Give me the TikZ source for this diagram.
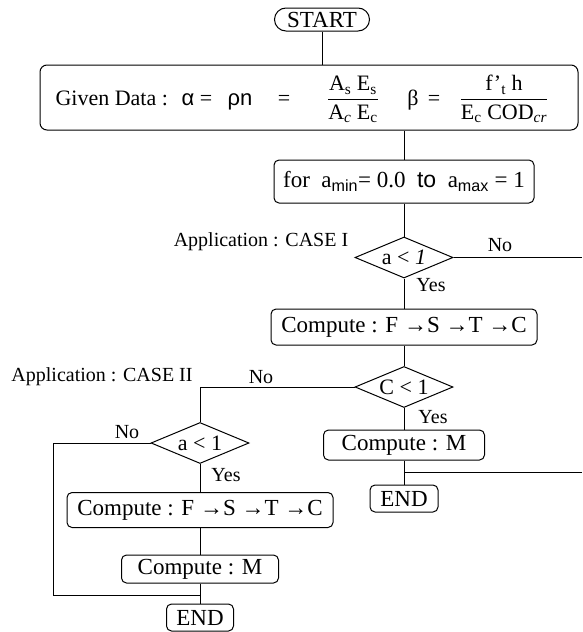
\documentclass[tikz,border=0pt]{standalone}
\usepackage{fontspec}
\usepackage{amsmath}
\setmainfont{Liberation Serif}
\newfontfamily\lsans{Liberation Sans}
\usetikzlibrary{shapes.geometric}
\begin{document}
\begin{tikzpicture}[x=1pt,y=-1pt, line width=1pt,
  box/.style={draw, rounded corners=5pt, inner sep=0pt, font=\fontsize{23}{27}\selectfont},
  dec/.style={draw, diamond, aspect=2.4, inner sep=0pt, minimum width=98pt, minimum height=41pt, font=\fontsize{22}{26}\selectfont},
  lab/.style={inner sep=0pt, font=\fontsize{20}{24}\selectfont},
  txt/.style={inner sep=0pt, anchor=base, font=\fontsize{22}{26}\selectfont}]
\useasboundingbox (0,0) rectangle (582,632);

% top
\node[box, rounded corners=11.5pt, minimum width=95pt, minimum height=23pt] (start) at (322,19.5) {START};
\node[box, rounded corners=7pt, minimum width=538pt, minimum height=65pt] (given) at (309,97.5) {};
\node[txt, anchor=base west] (g1) at (55,105) {Given Data :};
\node[txt] (g2) at (188,105) {\lsans α};
\node[txt] (g3) at (206,105) {=};
\node[txt] (g4) at (240,105) {\lsans ρn};
\node[txt] (g5) at (284,105) {=};
\node[txt] (g6) at (353,105) {$\dfrac{\text{A\textsubscript{s} E\textsubscript{s}}}{\text{A\textsubscript{\itshape c} E\textsubscript{c}}}$};
\node[txt] (g7) at (413,105) {β};
\node[txt] (g8) at (434,105) {=};
\node[txt] (g9) at (504,105) {$\dfrac{\text{f’\textsubscript{t} h}}{\text{E\textsubscript{c} COD\textsubscript{\itshape cr}}}$};

\node[box, minimum width=260pt, minimum height=43pt] (for) at (404,181.5) {for \ a\textsubscript{\lsans min}= 0.0 \ {\lsans to} \ a\textsubscript{\lsans max} = 1};

% case I
\node[dec] (d1) at (404,257.5) {a < \textit{1}};
\node[lab] (app1) at (261,242) {Application : CASE I};
\node[lab] (no1) at (500,245) {No};
\node[lab] (yes1) at (431,285) {Yes};
\node[box, minimum width=266pt, minimum height=36pt] (c1) at (404,327) {Compute : F →S →T →C};
\node[dec] (d2) at (404,387) {C < 1};
\node[lab] (yes2) at (433,417) {Yes};
\node[box, minimum width=161pt, minimum height=30pt] (m1) at (404,445) {Compute : M};
\node[box, minimum width=68pt, minimum height=27pt] (e1) at (404,498.5) {END};

% case II
\node[lab] (app2) at (102,377) {Application : CASE II};
\node[lab] (no2) at (261,377) {No};
\node[dec] (d3) at (200,443) {a < 1};
\node[lab] (no3) at (127,432) {No};
\node[lab] (yes3) at (226,475) {Yes};
\node[box, minimum width=266pt, minimum height=35pt] (c2) at (200,510) {Compute : F →S →T →C};
\node[box, minimum width=157pt, minimum height=28pt] (m2) at (200,569) {Compute : M};
\node[box, minimum width=67pt, minimum height=27pt] (e2) at (200,617.5) {END};

% free ends and bends
\coordinate (r1) at (582,257.5);
\coordinate (r2) at (582,472);
\coordinate (j1) at (404,472);
\coordinate (k1) at (200,387);
\coordinate (l1) at (53,443);
\coordinate (l2) at (53,595);
\coordinate (j2) at (200,595);

% connectors
\draw (start.south) -- (start.south |- given.north);
\draw (for.north |- given.south) -- (for.north);
\draw (for.south) -- (d1.north);
\draw (d1.east) -- (r1);
\draw (d1.south) -- (c1.north);
\draw (c1.south) -- (d2.north);
\draw (d2.west) -- (k1) -- (d3.north);
\draw (d2.south) -- (m1.north);
\draw (m1.south) -- (e1.north);
\draw (r2) -- (j1);
\draw (d3.west) -- (l1) -- (l2) -- (j2);
\draw (d3.south) -- (c2.north);
\draw (c2.south) -- (m2.north);
\draw (m2.south) -- (e2.north);
\end{tikzpicture}
\end{document}
